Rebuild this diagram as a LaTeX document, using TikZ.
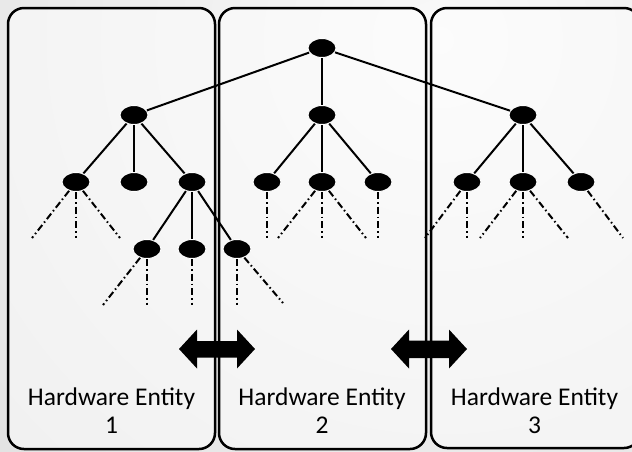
\documentclass[tikz,border=0pt]{standalone}
\usepackage{fontspec}
\setmainfont{Carlito}
\usetikzlibrary{shapes.geometric}
\definecolor{bgLight}{HTML}{F9F9F9}
\definecolor{bgDark}{HTML}{CBCBCB}
\tikzset{
  vertex/.style={ellipse, fill=black, draw=white, line width=1pt,
    minimum width=28pt, minimum height=19pt, inner sep=0pt},
  treeedge/.style={line width=2pt, black},
  subtree/.style={line width=2pt, black, dash pattern=on 7pt off 3pt on 1.5pt off 3pt},
  entitybox/.style={rounded corners=16pt, line width=2.5pt, draw=black,
    fill=white, fill opacity=0.5, draw opacity=1},
  entitytext/.style={font=\fontsize{25.5}{28}\selectfont, align=center, anchor=base},
  linkarrow/.style={fill=black}
}
\begin{document}
\begin{tikzpicture}[x=1pt,y=-1pt]
\useasboundingbox (0,0) rectangle (632,451);
% soft grey backdrop
\begin{scope}
  \clip (0,0) rectangle (632,451);
  \shade[inner color=bgLight, outer color=bgDark] (440,40) circle (1250);
\end{scope}

% the three hardware entities
\begin{scope}
  \clip (0,0) rectangle (632,451);
  \path[entitybox] (8,8) rectangle (215,449);
  \path[entitybox] (219,8) rectangle (426,449);
  \path[entitybox] (431,8) rectangle (640,448);
\end{scope}

% tree vertices
\node[vertex] (r)   at (322,48) {};
\node[vertex] (a)   at (134,115) {};
\node[vertex] (b)   at (322,115) {};
\node[vertex] (c)   at (523,115) {};
\node[vertex] (a1)  at (76,182) {};
\node[vertex] (a2)  at (134,182) {};
\node[vertex] (a3)  at (192,182) {};
\node[vertex] (b1)  at (267,182) {};
\node[vertex] (b2)  at (322,182) {};
\node[vertex] (b3)  at (378,182) {};
\node[vertex] (c1)  at (467,182) {};
\node[vertex] (c2)  at (523,182) {};
\node[vertex] (c3)  at (581,182) {};
\node[vertex] (a31) at (147,249) {};
\node[vertex] (a32) at (192,249) {};
\node[vertex] (a33) at (237,249) {};

% open ends of the elided subtrees
\coordinate (a1l) at (32,238);   \coordinate (a1m) at (76,238);   \coordinate (a1r) at (120,238);
\coordinate (a31l) at (103,305); \coordinate (a31m) at (147,305);
\coordinate (a32m) at (192,305);
\coordinate (a33m) at (237,305); \coordinate (a33r) at (283,303);
\coordinate (b1m) at (267,238);
\coordinate (b2l) at (278,238);  \coordinate (b2m) at (322,238);  \coordinate (b2r) at (366,238);
\coordinate (b3m) at (378,238);
\coordinate (c1l) at (425,238);  \coordinate (c1m) at (467,238);
\coordinate (c2l) at (480,238);  \coordinate (c2m) at (523,238);  \coordinate (c2r) at (568,238);
\coordinate (c3r) at (623,238);

% solid tree edges
\draw[treeedge] (r) -- (a);
\draw[treeedge] (r) -- (b);
\draw[treeedge] (r) -- (c);
\draw[treeedge] (a) -- (a1);
\draw[treeedge] (a) -- (a2);
\draw[treeedge] (a) -- (a3);
\draw[treeedge] (b) -- (b1);
\draw[treeedge] (b) -- (b2);
\draw[treeedge] (b) -- (b3);
\draw[treeedge] (c) -- (c1);
\draw[treeedge] (c) -- (c2);
\draw[treeedge] (c) -- (c3);
\draw[treeedge] (a3) -- (a31);
\draw[treeedge] (a3) -- (a32);
\draw[treeedge] (a3) -- (a33);

% dash-dotted stubs of deeper levels
\draw[subtree] (a1) -- (a1l);
\draw[subtree] (a1) -- (a1m);
\draw[subtree] (a1) -- (a1r);
\draw[subtree] (a31) -- (a31l);
\draw[subtree] (a31) -- (a31m);
\draw[subtree] (a32) -- (a32m);
\draw[subtree] (a33) -- (a33m);
\draw[subtree] (a33) -- (a33r);
\draw[subtree] (b1) -- (b1m);
\draw[subtree] (b2) -- (b2l);
\draw[subtree] (b2) -- (b2m);
\draw[subtree] (b2) -- (b2r);
\draw[subtree] (b3) -- (b3m);
\draw[subtree] (c1) -- (c1l);
\draw[subtree] (c1) -- (c1m);
\draw[subtree] (c2) -- (c2l);
\draw[subtree] (c2) -- (c2m);
\draw[subtree] (c2) -- (c2r);
\draw[subtree] (c3) -- (c3r);

% links between neighbouring entities
\fill[linkarrow] (179,349) -- (197,329.5) -- (197,341) -- (237,341) -- (237,329.5)
  -- (255,349) -- (237,368.5) -- (237,357.5) -- (197,357.5) -- (197,368.5) -- cycle;
\fill[linkarrow] (391,349) -- (409,329.5) -- (409,340.5) -- (449,340.5) -- (449,329.5)
  -- (467,349) -- (449,368.5) -- (449,358) -- (409,358) -- (409,368.5) -- cycle;

% entity captions (base anchor sits on the last line)
\node[entitytext] (t1) at (111.5,433) {Hardware Entity\\1};
\node[entitytext] (t2) at (322,433) {Hardware Entity\\2};
\node[entitytext] (t3) at (534.5,433) {Hardware Entity\\3};
\end{tikzpicture}
\end{document}
